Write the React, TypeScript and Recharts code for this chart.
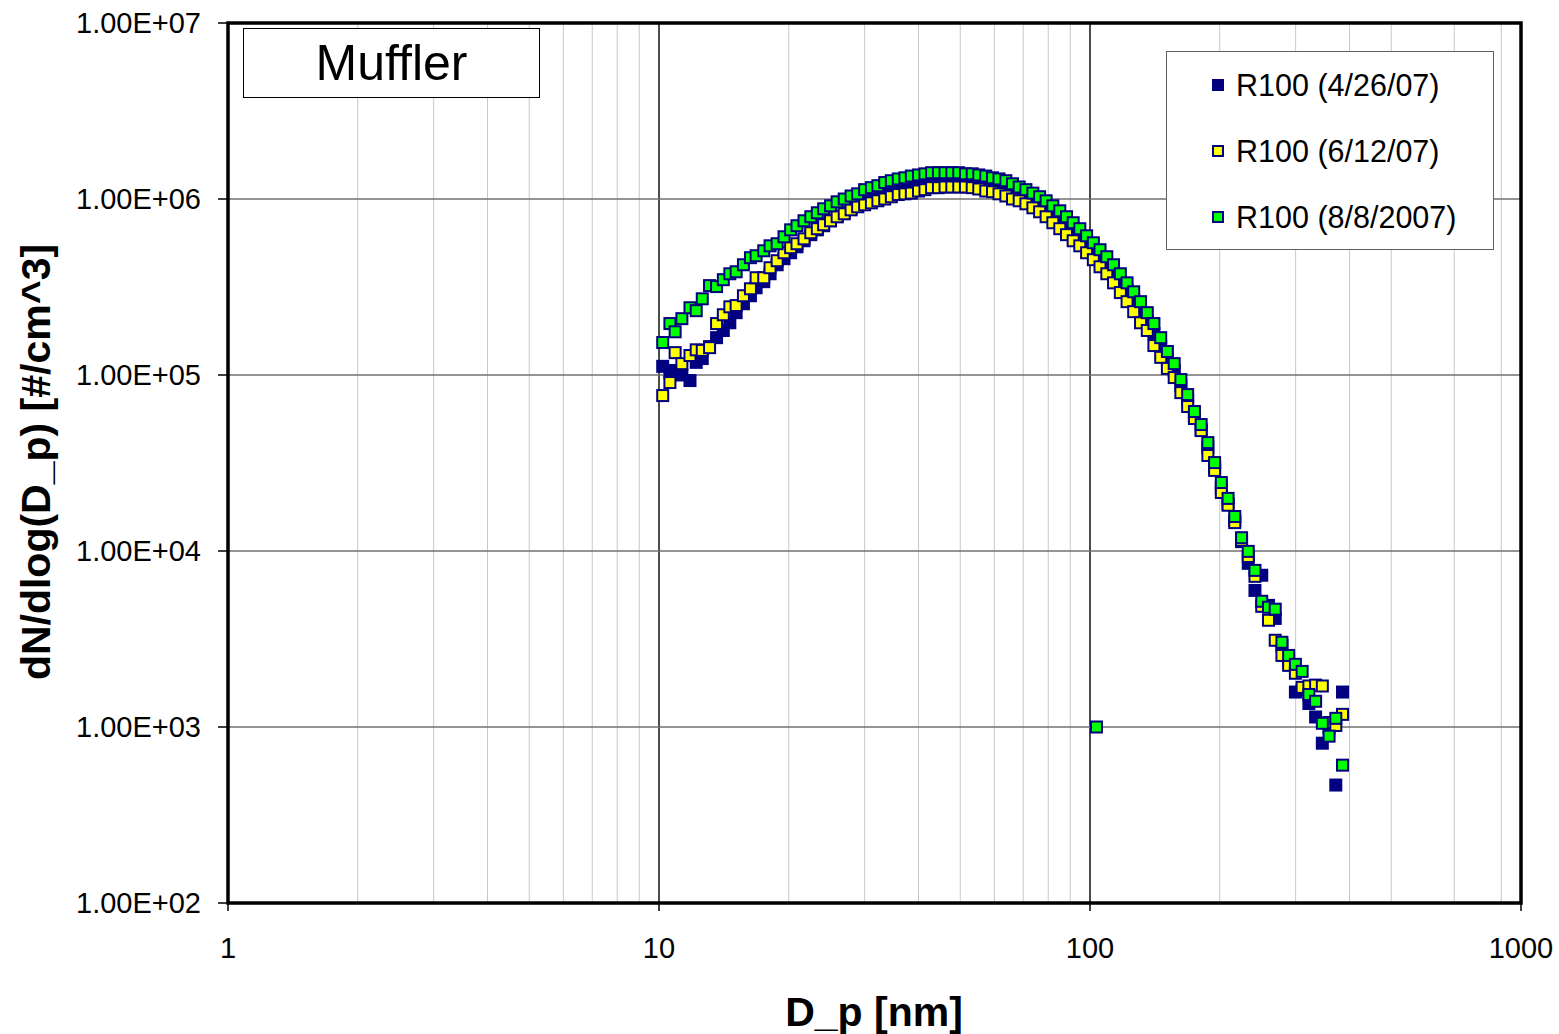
import { ScatterChart, Scatter, XAxis, YAxis, CartesianGrid, ReferenceArea, Legend, Label } from 'recharts';

// SMPS channel midpoints (nm)
const diameters = [
  10.2, 10.6, 10.9, 11.3, 11.8, 12.2, 12.6, 13.1, 13.6, 14.1, 14.6, 15.1, 15.7, 16.3, 16.8, 17.5, 18.1, 18.8, 19.5, 20.2,
  20.9, 21.7, 22.5, 23.3, 24.1, 25.0, 25.9, 26.9, 27.9, 28.9, 30.0, 31.1, 32.2, 33.4, 34.6, 35.9, 37.2, 38.5, 40.0, 41.4,
  42.9, 44.5, 46.1, 47.8, 49.6, 51.4, 53.3, 55.2, 57.3, 59.4, 61.5, 63.8, 66.1, 68.5, 71.0, 73.7, 76.4, 79.1, 82.0, 85.1,
  88.2, 91.4, 94.7, 98.2, 101.8, 105.5, 109.4, 113.4, 117.6, 121.9, 126.3, 131.0, 135.8, 140.7, 145.9, 151.2, 156.8, 162.5, 168.5, 174.7,
  181.1, 187.7, 194.6, 201.7, 209.1, 216.7, 224.7, 232.9, 241.4, 250.3, 259.5, 269.0, 278.8, 289.0, 299.6, 310.6, 322.0, 333.8, 346.0, 358.7,
  371.8, 385.4,
];

// R100 (4/26/07)
const r100Apr = [
  1.12e5, 1.03e5, 1.06e5, 1.0e5, 9.3e4, 1.18e5, 1.24e5, 1.45e5, 1.63e5, 1.79e5, 1.98e5, 2.26e5, 2.54e5, 2.82e5, 3.13e5, 3.39e5, 3.76e5, 4.23e5, 4.58e5, 4.95e5,
  5.35e5, 5.79e5, 6.27e5, 6.68e5, 7.05e5, 7.52e5, 7.93e5, 8.35e5, 8.8e5, 9.15e5, 9.64e5, 1.0e6, 1.04e6, 1.08e6, 1.13e6, 1.16e6, 1.19e6, 1.22e6, 1.25e6, 1.27e6,
  1.29e6, 1.3e6, 1.3e6, 1.3e6, 1.3e6, 1.29e6, 1.29e6, 1.27e6, 1.25e6, 1.22e6, 1.19e6, 1.16e6, 1.11e6, 1.07e6, 1.03e6, 9.89e5, 9.39e5, 8.8e5, 8.24e5, 7.72e5,
  7.14e5, 6.61e5, 6.1e5, 5.57e5, 5.08e5, 4.64e5, 4.23e5, 3.81e5, 3.39e5, 3.01e5, 2.68e5, 2.32e5, 2.01e5, 1.72e5, 1.45e5, 1.22e5, 1.06e5, 8.71e4, 7.16e4, 5.81e4,
  4.9e4, 3.87e4, 2.98e4, 2.3e4, 1.86e4, 1.49e4, 1.13e4, 8.51e3, 5.97e3, 7.28e3, 4.91e3, 4.14e3, 2.91e3, 2.39e3, 1.58e3, 1.62e3, 1.36e3, 1.14e3, 809, 985,
  468, 1.58e3,
];

// R100 (6/12/07)
const r100Jun = [
  7.64e4, 9.06e4, 1.34e5, 1.16e5, 1.29e5, 1.39e5, 1.38e5, 1.43e5, 1.96e5, 2.2e5, 2.44e5, 2.48e5, 2.82e5, 3.09e5, 3.57e5, 3.57e5, 4.07e5, 4.46e5, 4.95e5, 5.29e5,
  5.57e5, 5.94e5, 6.43e5, 6.78e5, 7.14e5, 7.52e5, 7.93e5, 8.24e5, 8.68e5, 9.03e5, 9.27e5, 9.51e5, 9.77e5, 1.0e6, 1.03e6, 1.06e6, 1.07e6, 1.08e6, 1.11e6, 1.13e6,
  1.16e6, 1.16e6, 1.17e6, 1.17e6, 1.17e6, 1.17e6, 1.16e6, 1.14e6, 1.11e6, 1.1e6, 1.07e6, 1.04e6, 1.0e6, 9.77e5, 9.39e5, 8.91e5, 8.46e5, 7.93e5, 7.33e5, 6.78e5,
  6.27e5, 5.79e5, 5.42e5, 4.95e5, 4.52e5, 4.12e5, 3.76e5, 3.34e5, 2.94e5, 2.61e5, 2.29e5, 1.98e5, 1.79e5, 1.47e5, 1.26e5, 1.09e5, 9.67e4, 7.94e4, 6.62e4, 5.66e4,
  4.83e4, 3.49e4, 2.87e4, 2.15e4, 1.82e4, 1.45e4, 1.15e4, 9.31e3, 7.18e3, 4.85e3, 4.04e3, 3.11e3, 2.55e3, 2.24e3, 2.02e3, 1.68e3, 1.71e3, 1.73e3, 1.71e3, 1.06e3,
  1.02e3, 1.18e3,
];

// R100 (8/8/2007)
const r100Aug = [
  1.53e5, 1.96e5, 1.76e5, 2.09e5, 2.41e5, 2.32e5, 2.71e5, 3.22e5, 3.18e5, 3.48e5, 3.76e5, 3.86e5, 4.23e5, 4.64e5, 4.76e5, 5.08e5, 5.42e5, 5.57e5, 6.1e5, 6.68e5,
  7.05e5, 7.52e5, 7.93e5, 8.35e5, 8.8e5, 9.15e5, 9.64e5, 1.0e6, 1.04e6, 1.07e6, 1.13e6, 1.16e6, 1.19e6, 1.24e6, 1.27e6, 1.3e6, 1.32e6, 1.35e6, 1.37e6, 1.39e6,
  1.41e6, 1.41e6, 1.41e6, 1.41e6, 1.41e6, 1.39e6, 1.39e6, 1.37e6, 1.35e6, 1.32e6, 1.3e6, 1.27e6, 1.22e6, 1.17e6, 1.13e6, 1.08e6, 1.03e6, 9.77e5, 9.15e5, 8.57e5,
  7.93e5, 7.33e5, 6.78e5, 6.18e5, 5.64e5, 5.15e5, 4.7e5, 4.23e5, 3.76e5, 3.34e5, 2.97e5, 2.61e5, 2.26e5, 1.96e5, 1.63e5, 1.36e5, 1.16e5, 9.42e4, 7.74e4, 6.2e4,
  5.23e4, 4.13e4, 3.18e4, 2.45e4, 1.99e4, 1.57e4, 1.19e4, 9.95e3, 7.76e3, 5.18e3, 4.79e3, 4.67e3, 3.03e3, 2.55e3, 2.27e3, 2.07e3, 1.53e3, 1.4e3, 1.05e3, 887,
  1.12e3, 607,
];
// stray point in the 8/8/2007 run
const augStrayD = [103.5];
const augStrayV = [1000];

const xTicks = [1, 10, 100, 1000];
const yTicks = [1e2, 1e3, 1e4, 1e5, 1e6, 1e7];
const xMajorGrid = [10, 100];
const xMinorGrid = [2, 3, 4, 5, 6, 7, 8, 9, 20, 30, 40, 50, 60, 70, 80, 90, 200, 300, 400, 500, 600, 700, 800, 900];
const yGrid = [1e3, 1e4, 1e5, 1e6];

const FONT = 'Arial, "Liberation Sans", sans-serif';
const NAVY = '#000080';

const toPoints = (ds: number[], vs: (number | null)[]) =>
  ds.map((d, i) => ({ d, v: vs[i] })).filter((p) => p.v != null);

const series = [
  { name: 'R100 (4/26/07)', fill: NAVY, data: toPoints(diameters, r100Apr) },
  { name: 'R100 (6/12/07)', fill: '#ffff00', data: toPoints(diameters, r100Jun) },
  { name: 'R100 (8/8/2007)', fill: '#00ff00', data: [...toPoints(diameters, r100Aug), ...toPoints(augStrayD, augStrayV)] },
];

const square = (fill: string) => (props: any) => {
  const { cx, cy } = props;
  if (cx == null || cy == null) return <g />;
  return <rect x={cx - 5.5} y={cy - 5.5} width={11} height={11} fill={fill} stroke={NAVY} strokeWidth={2} />;
};

const fmtSci = (v: number) => {
  const e = Math.round(Math.log10(v));
  return `1.00E+${e < 10 ? '0' + e : e}`;
};

const LegendBox = () => (
  <div
    style={{
      position: 'relative',
      width: 328,
      height: 199,
      border: '1.5px solid #606060',
      background: '#fff',
      boxSizing: 'border-box',
      fontFamily: FONT,
      fontSize: 30.5,
      color: '#000',
    }}
  >
    {series.map((s, i) => (
      <div key={s.name} style={{ position: 'absolute', left: 45, top: 15 + i * 66, height: 36, display: 'flex', alignItems: 'center' }}>
        <span
          style={{
            display: 'inline-block',
            width: 12,
            height: 12,
            background: s.fill,
            border: `2px solid ${NAVY}`,
            boxSizing: 'border-box',
            marginRight: 12,
          }}
        />
        <span>{s.name}</span>
      </div>
    ))}
  </div>
);

export default function App() {
  return (
    <div style={{ position: 'absolute', left: 0, top: 0, width: 1559, height: 1034, background: '#fff' }}>
      <ScatterChart width={1559} height={1034} margin={{ top: 23, right: 38, left: 0, bottom: 0 }}>
        <CartesianGrid horizontal={false} verticalValues={xMinorGrid} stroke="#c8c8c8" strokeWidth={1} />
        <CartesianGrid horizontal={false} verticalValues={xMajorGrid} stroke="#101010" strokeWidth={1.5} />
        <CartesianGrid vertical={false} horizontalValues={yGrid} stroke="#707070" strokeWidth={1.5} />
        <XAxis
          type="number"
          dataKey="d"
          scale="log"
          domain={[1, 1000]}
          ticks={xTicks}
          allowDataOverflow
          height={131}
          axisLine={false}
          tickLine={{ stroke: '#000', strokeWidth: 1.5 }}
          tickSize={8}
          tickMargin={26}
          tick={{ fill: '#000', fontSize: 29, fontFamily: FONT }}
          label={
            <Label
              content={() => (
                <text x={874} y={1012} textAnchor="middle" dominantBaseline="central" fontFamily={FONT} fontWeight="bold" fontSize={41} fill="#000">
                  D_p [nm]
                </text>
              )}
            />
          }
        />
        <YAxis
          type="number"
          dataKey="v"
          scale="log"
          domain={[100, 1e7]}
          ticks={yTicks}
          allowDataOverflow
          width={228}
          axisLine={false}
          tickLine={{ stroke: '#000', strokeWidth: 1.5 }}
          tickSize={10}
          tickMargin={17}
          tickFormatter={fmtSci}
          tick={{ fill: '#000', fontSize: 29, fontFamily: FONT }}
          label={
            <Label
              content={() => (
                <text
                  x={36}
                  y={462}
                  transform="rotate(-90 36 462)"
                  textAnchor="middle"
                  dominantBaseline="central"
                  fontFamily={FONT}
                  fontWeight="bold"
                  fontSize={41}
                  fill="#000"
                >
                  dN/dlog(D_p) [#/cm^3]
                </text>
              )}
            />
          }
        />
        <ReferenceArea x1={1} x2={1000} y1={100} y2={1e7} fill="none" stroke="#000" strokeWidth={3.5} ifOverflow="visible" />
        {series.map((s) => (
          <Scatter key={s.name} name={s.name} data={s.data} fill={s.fill} shape={square(s.fill)} isAnimationActive={false} />
        ))}
        <Legend
          layout="horizontal"
          verticalAlign="middle"
          align="center"
          wrapperStyle={{ position: 'absolute', left: 1166, top: 51, width: 328, height: 199 }}
          content={() => <LegendBox />}
        />
      </ScatterChart>
      <div
        style={{
          position: 'absolute',
          left: 243,
          top: 28,
          width: 297,
          height: 70,
          border: '1.5px solid #000',
          background: '#fff',
          boxSizing: 'border-box',
          display: 'flex',
          alignItems: 'center',
          justifyContent: 'center',
          fontFamily: FONT,
          fontSize: 50,
          color: '#000',
        }}
      >
        Muffler
      </div>
    </div>
  );
}
